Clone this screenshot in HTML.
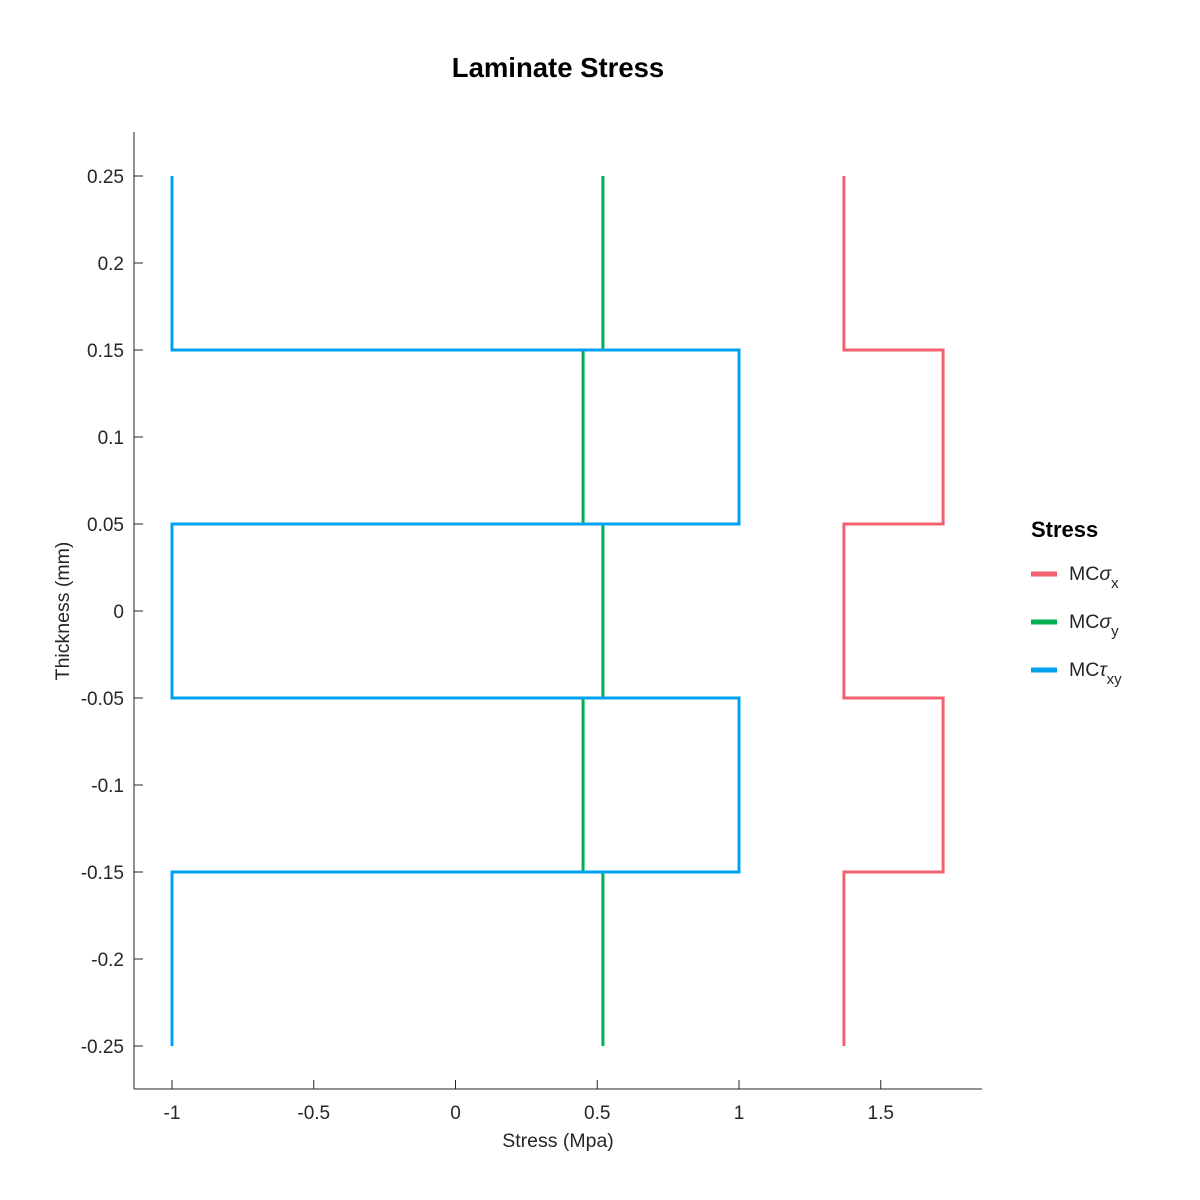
<!DOCTYPE html>
<html><head><meta charset="utf-8"><style>
body{margin:0;background:#fff;}
svg{display:block;font-family:"Liberation Sans",Arial,sans-serif;}
</style></head><body>
<svg id="chart" width="1200" height="1200">
<text x="558" y="77" text-anchor="middle" font-size="27.5" font-weight="bold" fill="#000">Laminate Stress</text>
<text x="558" y="1147" text-anchor="middle" font-size="19.5" fill="#262626">Stress (Mpa)</text>
<text transform="translate(69,611) rotate(-90)" text-anchor="middle" font-size="19.5" fill="#262626">Thickness (mm)</text>
<g id="axes"></g>
<g id="series"></g>
<g>
<text x="1031" y="537" font-size="22" font-weight="bold" fill="#000">Stress</text>
<g>
<line x1="1031" x2="1057" y1="574" y2="574" stroke="#f0626e" stroke-width="5"/>
<text x="1069" y="580" font-size="19.5" fill="#262626">MC<tspan font-style="italic">σ</tspan><tspan font-size="15" dy="8">x</tspan></text></g>
<g>
<line x1="1031" x2="1057" y1="622" y2="622" stroke="#00b050" stroke-width="5"/>
<text x="1069" y="628" font-size="19.5" fill="#262626">MC<tspan font-style="italic">σ</tspan><tspan font-size="15" dy="8">y</tspan></text></g>
<g>
<line x1="1031" x2="1057" y1="670" y2="670" stroke="#00a2f0" stroke-width="5"/>
<text x="1069" y="676" font-size="19.5" fill="#262626">MC<tspan font-style="italic">τ</tspan><tspan font-size="15" dy="8">xy</tspan></text></g>
</g>
</svg>
<script>
const zBounds=[0.25,0.15,0.05,-0.05,-0.15,-0.25];
const sigmaX=[1.37,1.72,1.37,1.72,1.37];
const sigmaY=[0.52,0.45,0.52,0.45,0.52];
const tauXY=[-1,1,-1,1,-1];
const xTicks=[-1,-0.5,0,0.5,1,1.5];
const xTickLabels=["-1","-0.5","0","0.5","1","1.5"];
const yTicks=[0.25,0.2,0.15,0.1,0.05,0,-0.05,-0.1,-0.15,-0.2,-0.25];
const yTickLabels=["0.25","0.2","0.15","0.1","0.05","0","-0.05","-0.1","-0.15","-0.2","-0.25"];

const NS="http://www.w3.org/2000/svg";
const xs=v=>455.5+v*283.5;
const ys=v=>611-v*1740;
const L=134,R=982,T=132,B=1089;
const axes=document.getElementById('axes');
function mk(tag,attrs,parent){const e=document.createElementNS(NS,tag);for(const k in attrs)e.setAttribute(k,attrs[k]);parent.appendChild(e);return e;}
const xa=mk('line',{x1:L,x2:R,y1:B,y2:B,stroke:'#262626','stroke-width':1},axes);


const ya=mk('line',{x1:L,x2:L,y1:T,y2:B,stroke:'#262626','stroke-width':1},axes);


xTicks.forEach((v,i)=>{
  const t=mk('line',{x1:xs(v),x2:xs(v),y1:B,y2:B-9,stroke:'#262626'},axes);
  
  
  const l=mk('text',{x:xs(v),y:B+30,'text-anchor':'middle','font-size':19,fill:'#262626'},axes);
  l.textContent=xTickLabels[i];
  
  
});
yTicks.forEach((v,i)=>{
  const t=mk('line',{x1:L,x2:L+9,y1:ys(v),y2:ys(v),stroke:'#262626'},axes);
  
  
  const l=mk('text',{x:L-10,y:ys(v)+7,'text-anchor':'end','font-size':19,fill:'#262626'},axes);
  l.textContent=yTickLabels[i];
  
  
});
const series=document.getElementById('series');
function stepPath(vals){
  let d='';
  vals.forEach((v,i)=>{
    d+=(i===0?'M':'L')+xs(v)+','+ys(zBounds[i])+' L'+xs(v)+','+ys(zBounds[i+1])+' ';
  });
  return d;
}
[[sigmaX,'#f0626e','sigma-x-line'],[sigmaY,'#00b050','sigma-y-line'],[tauXY,'#00a2f0','tau-xy-line']].forEach(([vals,c,n])=>{
  const p=mk('path',{d:stepPath(vals),fill:'none',stroke:c,'stroke-width':3},series);
  
  
});
</script>
</body></html>
